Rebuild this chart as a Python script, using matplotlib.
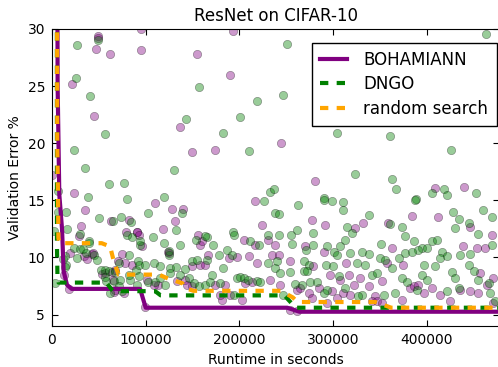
import numpy as np
import matplotlib
matplotlib.use("Agg")
import matplotlib.pyplot as plt

plt.rcParams['lines.scale_dashes'] = False
plt.rcParams['font.family'] = ['DejaVu Sans']

# evaluated configurations: (runtime in 1000 s, validation error %)
boh_pts = np.array([
    (48.7, 29.4), (48.7, 29.2), (46.6, 28.25), (62, 27.8), (95, 28.2), (95, 30.0), (155, 27.8),
    (193.5, 29.8), (190, 26.0), (21.3, 25.2), (45, 22.4), (137, 21.4), (149, 19.2), (174, 19.4),
    (0, 17.2), (23.5, 15.6), (244, 20.0), (281, 16.7), (409, 16.1), (440, 16.2),
    (35, 14.14), (63, 13.15), (79, 12.27), (31, 12.77), (28.5, 11.92), (34, 10.1), (42.7, 10.3),
    (19.6, 10.4), (12.5, 8.48), (17.8, 7.26), (53, 8.54), (57, 8.63), (64, 8.72), (65.8, 7.0),
    (76.5, 6.88), (74.7, 10.29), (77.5, 9.5),
    (110, 14.75), (127.7, 14.2), (140, 14.25), (131, 13.15), (118, 12.5), (91, 12.27), (95.7, 10.96),
    (124, 10.5), (156, 11.97), (44, 10.4), (37.7, 9.88), (67, 8.86), (65, 8.04), (67, 7.17),
    (70.7, 9.65), (85, 9.36),
    (81.8, 13.3), (90.7, 12.2), (92.5, 11.98), (124.5, 10.38), (158, 11.1), (149, 9.21), (158, 9.36),
    (101, 8.05), (112.7, 7.61), (108.5, 7.61), (133, 7.9), (142, 8.05), (144, 7.61), (149, 7.46),
    (99, 5.7),
    (217, 14.9), (224, 12.8), (160, 11.4), (204.5, 11.55), (217, 11.1), (230.4, 11.55), (238, 11.1),
    (167, 10.23), (163.6, 9.36), (189, 9.94), (197, 10.0), (209.8, 10.09), (218.7, 9.5),
    (234.7, 10.23), (213, 7.84), (206, 7.76), (233, 8.05), (174, 7.61), (185, 7.61), (190, 6.73),
    (202.7, 6.3), (181, 6.3), (179.6, 6.73),
    (277, 13.3), (291.6, 12.86), (270, 10.96), (289.8, 10.52), (241.8, 10.23), (254, 9.65),
    (279, 9.21), (297, 8.48), (314, 9.5), (316.5, 8.48), (307.6, 8.05), (261.3, 7.17), (265, 7.32),
    (284.5, 7.32), (298.7, 7.03), (304, 6.44), (311, 6.88), (318, 6.73), (243.6, 7.61),
    (273.8, 6.88), (277, 6.44), (293, 6.0), (254, 5.4), (261.3, 5.28),
    (384, 13.67), (331.4, 13.0), (323.6, 12.56), (359, 13.0), (362.7, 10.87), (357, 9.5),
    (375, 9.36), (352, 7.9), (382, 7.32), (385.8, 7.46), (391, 7.55), (396.5, 6.88), (321.8, 7.61),
    (329, 8.19), (337.8, 7.46), (345, 6.59), (341, 6.15), (346.7, 6.15), (352, 6.0), (373, 6.3),
    (412, 13.58), (446, 12.71), (469, 11.98), (439, 10.96), (453, 10.8), (462, 10.8), (457, 8.63),
    (471, 8.19), (405, 7.32), (414, 6.73), (425, 6.15), (435.6, 7.17), (446, 7.03), (455, 6.88),
    (471, 6.0), (464, 7.61),
])

dngo_pts = np.array([
    (49, 29.0), (27, 28.57), (25.6, 25.7), (156.5, 24.9), (40.5, 24.1), (219, 23.7), (143, 22.16),
    (201, 22.3), (57, 20.8), (182, 20.9), (23, 19.4), (210.5, 19.3), (35.6, 17.8), (130, 17.7),
    (6.4, 15.8), (60.5, 16.4), (77, 16.5), (38, 15.3), (80, 15.1), (119, 15.3), (232.6, 15.7),
    (236.5, 15.95), (250.8, 28.7), (463, 29.6), (247, 24.26), (303.8, 20.9), (360.7, 20.6),
    (425.5, 19.4), (323, 17.3), (363, 16.9), (366.8, 16.0), (418.7, 15.95), (405, 15.6),
    (421.5, 15.5), (452.8, 15.6), (290, 15.2), (388, 15.1),
    (15, 13.96), (50.5, 13.44), (65, 13.2), (74, 13.5), (16, 12.45), (1.8, 12.33), (29.5, 12.07),
    (39, 11.4), (24, 10.8), (30, 10.76), (44.5, 10.23), (48, 9.8), (14, 10.1), (15, 9.36), (3, 7.8),
    (61, 8.78), (67.6, 8.69), (71, 9.5), (57, 8.92), (57.6, 7.96), (65.8, 7.96), (73, 8.05),
    (71, 7.46), (74.7, 7.03),
    (6.7, 14.0), (102, 13.87), (139, 13.87), (132, 12.4), (85, 11.83), (94, 11.1), (107.4, 11.83),
    (119.5, 11.3), (125, 10.2), (136.5, 11.1), (154, 11.5), (165, 11.83), (40, 11.25), (27, 9.94),
    (32.7, 10.7), (36, 10.4), (12, 9.88), (13.9, 9.2), (52, 8.9), (56.5, 8.33), (62, 6.87),
    (83, 8.04), (90, 8.92), (92, 9.65),
    (84, 13.1), (80, 12.0), (94, 11.4), (125, 10.58), (81.8, 10.23), (92.5, 9.36), (99.6, 9.3),
    (108.5, 9.5), (115.6, 9.21), (125.5, 9.07), (132.6, 9.13), (142, 9.0), (149, 9.65),
    (154.7, 9.8), (81.8, 8.48), (92.5, 8.34), (102, 7.84), (110, 7.84), (115.6, 8.19), (121, 7.61),
    (126, 8.63), (137, 8.48), (145.8, 8.19), (151, 7.76), (156.5, 7.46), (90.7, 7.6),
    (225.8, 14.9), (238, 13.9), (163.6, 11.92), (192.7, 12.27), (193.8, 11.98), (211.6, 11.4),
    (220.5, 11.1), (231, 11.98), (172, 11.1), (165, 9.8), (177.8, 10.23), (186.7, 10.67),
    (192, 10.23), (231, 9.5), (238, 9.07), (183, 9.07), (197, 8.19), (201, 8.25), (204.5, 8.19),
    (209, 8.05), (218.7, 7.96), (222, 7.84), (163.6, 7.6), (169, 7.84), (179.6, 7.76),
    (170.7, 8.48), (193.8, 6.73),
    (289.8, 15.04), (298.7, 14.9), (310, 14.84), (310, 14.17), (262, 14.6), (241.8, 13.79),
    (314.7, 12.71), (261.3, 12.42), (255, 11.98), (279, 12.13), (241.8, 11.98), (256, 11.17),
    (271, 10.67), (279, 11.1), (293, 10.96), (307.6, 10.96), (313, 11.55), (300.5, 10.52),
    (304, 10.23), (318, 10.38), (240, 9.65), (243.6, 8.63), (253.5, 8.72), (268.5, 9.65),
    (273.8, 9.36), (268.5, 8.83), (272, 8.78), (292.6, 9.36), (299.8, 9.21), (305.8, 8.34),
    (259.6, 7.67), (266.7, 7.61), (275.6, 7.84), (282.7, 7.84), (289.8, 6.88), (293, 7.17),
    (313, 7.32), (247, 6.73),
    (387.6, 15.04), (337.8, 13.73), (361, 12.9), (373, 12.65), (377, 11.92), (320, 12.13),
    (385.8, 11.46), (394.7, 10.8), (391, 10.67), (351, 11.17), (330.7, 10.47), (337.8, 10.29),
    (350, 9.94), (355.6, 9.8), (369.8, 9.94), (377, 10.38), (384, 10.52), (325, 9.5), (334, 9.36),
    (362.7, 9.07), (396.5, 9.3), (394.7, 8.48), (341, 8.48), (346.7, 8.63), (373, 8.19),
    (378.7, 7.84), (389, 7.17), (330.7, 6.73), (353.8, 6.73), (366, 6.88), (327, 6.59),
    (428, 14.02), (434, 13.38), (444.5, 13.0), (430, 12.56), (460, 14.17), (470, 13.58),
    (455, 12.04), (405, 11.4), (410.7, 11.55), (400, 10.8), (416, 10.52), (414, 9.94), (421, 10.09),
    (435.6, 10.23), (446, 10.29), (469, 11.1), (409, 9.21), (444.5, 9.36), (449.8, 8.78),
    (455, 8.05), (465.8, 7.76), (426.7, 8.72), (430, 8.19), (400, 8.05), (421, 7.03),
    (433.8, 7.32), (467.5, 6.88), (473, 6.2),
])

# incumbent curves (runtime in 1000 s, best error so far)
boh_t = [5, 6, 7.8, 10.7, 12.4, 16, 21, 94, 100, 251, 264, 480]
boh_err = [60, 25, 15.5, 12.5, 8.8, 7.6, 7.25, 7.25, 5.6, 5.6, 5.25, 5.25]

dngo_t = [5, 5.3, 5.8, 7, 58, 65, 110, 116, 248, 260, 480]
dngo_err = [60, 11, 8.5, 7.8, 7.8, 7.05, 7.05, 6.68, 6.68, 5.6, 5.6]

rs_t = [5, 5.6, 6.4, 6.8, 8, 53, 62, 66, 71, 114, 124.5, 139, 142, 151, 244, 257, 262, 345,
        352, 362, 480]
rs_err = [60, 20, 15.5, 11.7, 11.25, 11.25, 10.96, 9.65, 8.5, 8.5, 8.13, 7.75, 7.32, 7.08, 7.08,
          6.5, 6.1, 6.1, 5.9, 5.6, 5.6]

fig = plt.figure(figsize=(4.98, 3.67), dpi=100)
ax = fig.add_axes([52 / 498, 41 / 367, 447 / 498, 297 / 367])

ax.scatter(boh_pts[:, 0] * 1000, boh_pts[:, 1], s=36, color='purple', alpha=0.4,
           edgecolors='k', linewidths=0.45)
ax.scatter(dngo_pts[:, 0] * 1000, dngo_pts[:, 1], s=36, color='green', alpha=0.4,
           edgecolors='k', linewidths=0.45)

ax.plot(np.array(boh_t) * 1000, boh_err, color='purple', lw=3, label='BOHAMIANN')
ax.plot(np.array(dngo_t) * 1000, dngo_err, color='green', lw=3, dashes=(6, 6), label='DNGO')
ax.plot(np.array(rs_t) * 1000, rs_err, color='orange', lw=3, dashes=(6, 6), label='random search')

ax.set_xlim(0, 477000)
ax.set_ylim(4, 30)
ax.set_xticks([0, 100000, 200000, 300000, 400000])
ax.set_yticks([5, 10, 15, 20, 25, 30])
ax.tick_params(direction='in', top=True, right=True, length=4, labelsize=10, pad=5)
ax.ticklabel_format(style='plain', axis='x')

ax.set_title('ResNet on CIFAR-10', fontsize=12)
ax.set_xlabel('Runtime in seconds', fontsize=10)
ax.set_ylabel('Validation Error %', fontsize=10)

leg = ax.legend(loc='upper right', bbox_to_anchor=(496.5 / 498, 1 - 42.5 / 367),
                bbox_transform=fig.transFigure, borderaxespad=0, fontsize=12,
                handlelength=1.6, handletextpad=1.0, fancybox=False, framealpha=1,
                edgecolor='k', borderpad=0.5, labelspacing=0.38)
leg.get_frame().set_linewidth(1.0)

fig.savefig('out.png', dpi=100)
